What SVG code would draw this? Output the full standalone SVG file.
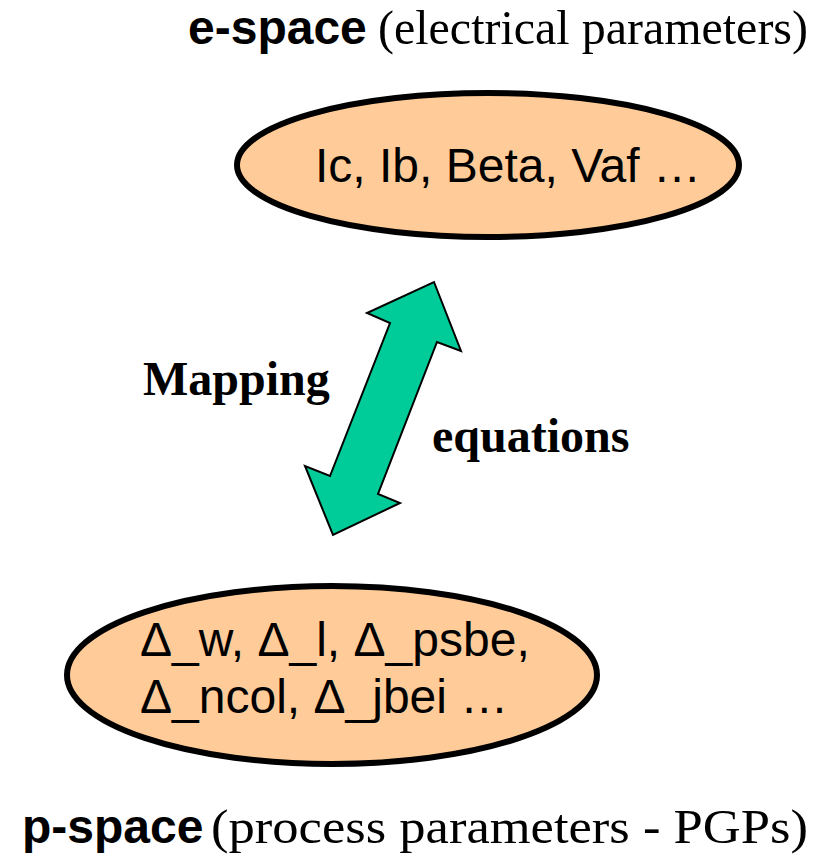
<svg xmlns="http://www.w3.org/2000/svg" width="831" height="856" viewBox="0 0 831 856">
<style>
.ell{fill:#FFCC99;stroke:#000;stroke-width:6}
.lbl{font-family:"Liberation Sans",Arial,sans-serif;font-size:48px;fill:#000}
.hb{font-family:"Liberation Sans",Arial,sans-serif;font-weight:bold;font-size:48px;fill:#000}
.hs{font-family:"Liberation Serif","Times New Roman",serif;font-size:49px;fill:#000}
.ser{font-family:"Liberation Serif","Times New Roman",serif;font-weight:bold;font-size:48px;fill:#000}
</style>
<rect width="831" height="856" fill="#fff"/>
<g id="title-e"><text class="hb" x="188" y="44">e-space</text><text class="hs" x="378" y="44" textLength="430" lengthAdjust="spacingAndGlyphs">(electrical parameters)</text></g>
<g id="e-space"><ellipse class="ell" cx="488" cy="165" rx="251" ry="72"/><text class="lbl" x="315" y="182">Ic, Ib, Beta, Vaf …</text></g>
<g id="connectors">
<polygon points="434,282 461,351 437,342 378,494 400,503 333,535 305,466 330,476 390,323 367,313" fill="#00CC99" stroke="#000" stroke-width="2" stroke-linejoin="miter"/>
<text class="ser" x="143" y="395">Mapping</text>
<text class="ser" x="432" y="452">equations</text>
</g>
<g id="p-space"><ellipse class="ell" cx="332" cy="675" rx="265" ry="89"/><text class="lbl" x="140" y="656">Δ_w, Δ_l, Δ_psbe,</text><text class="lbl" x="140" y="713">Δ_ncol, Δ_jbei …</text></g>
<g id="title-p"><text class="hb" x="22" y="843">p-space</text><text class="hs" x="211" y="843" textLength="597" lengthAdjust="spacingAndGlyphs">(process parameters - PGPs)</text></g>
</svg>
